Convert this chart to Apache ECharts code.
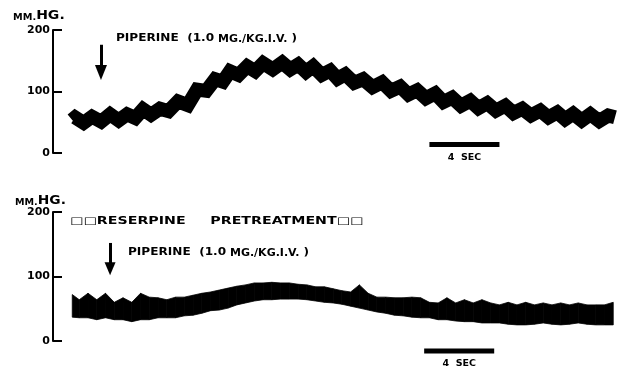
<!DOCTYPE html>
<html>
<head>
<meta charset="utf-8">
<script src="https://cdn.jsdelivr.net/npm/echarts@6/dist/echarts.min.js"></script>
<style>
  html, body { margin: 0; background: #fff; }
  #chart { width: 617px; height: 375px; }
</style>
</head>
<body>
<div id="chart"></div>
<script>
// top trace: time (s) and pressure (mm Hg), alternating pulse peaks / troughs
const topTime = [1.09, 1.26, 1.75, 2.23, 2.75, 3.26, 3.75, 4.23, 4.7, 5.14, 5.6, 6.11, 6.6, 7.14, 7.7, 8.23, 8.75, 9.26, 9.7, 10.11,
  10.6, 11.09, 11.55, 12.0, 12.55, 13.09, 13.55, 14.0, 14.45, 14.86, 15.35, 15.83, 16.25, 16.69, 17.2, 17.71, 18.25, 18.8, 19.3, 19.83,
  20.3, 20.8, 21.3, 21.83, 22.3, 22.8, 23.3, 23.83, 24.3, 24.8, 25.3, 25.83, 26.3, 26.8, 27.3, 27.83, 28.3, 28.8, 29.25, 29.71,
  30.2, 30.69, 31.2, 31.71, 32.1]
const topPressure = [54, 58, 49, 59, 51, 63, 53, 63, 57, 71, 62, 72, 68, 84, 78, 103, 101, 120, 116, 133,
  127, 141, 133, 146, 136, 147, 136, 144, 132, 141, 127, 134, 121, 128, 114, 120, 107, 115, 101, 108,
  95, 102, 89, 97, 83, 90, 77, 85, 73, 81, 69, 77, 65, 72, 61, 69, 58, 66, 55, 64,
  53, 63, 52, 61, 58]

// bottom trace (after reserpine): upper and lower edge of the pulse band
const bottomTime = [1.1, 1.5, 2, 2.5, 3, 3.5, 4, 4.5, 5, 5.5, 6, 6.5, 7, 7.5, 8, 8.5, 9, 9.5, 10, 10.5,
  11, 11.5, 12, 12.5, 13, 13.5, 14, 14.5, 15, 15.5, 16, 16.5, 17, 17.5, 18, 18.5, 19, 19.5, 20, 20.5,
  21, 21.5, 22, 22.5, 23, 23.5, 24, 24.5, 25, 25.5, 26, 26.5, 27, 27.5, 28, 28.5, 29, 29.5, 30, 30.5,
  31, 31.5, 32]
const bottomUpper = [72, 64, 74, 64, 74, 60, 67, 60, 74, 68, 67, 64, 68, 68, 71, 74, 76, 79, 82, 85,
  87, 90, 90, 91, 90, 90, 88, 87, 84, 84, 81, 78, 76, 87, 74, 68, 68, 67, 67, 68,
  67, 60, 59, 67, 59, 64, 59, 64, 59, 56, 60, 56, 60, 56, 59, 56, 59, 56, 59, 56,
  56, 56, 60]
const bottomLower = [37, 36, 36, 33, 36, 33, 33, 30, 33, 33, 36, 36, 36, 39, 40, 43, 47, 48, 51, 56,
  59, 62, 64, 64, 65, 65, 65, 64, 62, 60, 59, 57, 54, 51, 48, 45, 43, 40, 39, 37,
  36, 36, 33, 33, 31, 30, 30, 28, 28, 28, 26, 25, 25, 26, 28, 26, 25, 26, 28, 26,
  25, 25, 25]

// annotations: injection arrows [time, from, to] and 4 s scale bars [start, end, level]
const topArrow = [2.74, 176, 131]
const bottomArrow = [3.26, 152, 112]
const topScaleBar = [21.5, 25.5, 14]
const bottomScaleBar = [21.2, 25.2, -15.5]

const FONT = 'DejaVu Sans'
const chart = echarts.init(document.getElementById('chart'))

const pairs = (xs, ys) => xs.map((x, i) => [x, ys[i]])

const arrowMark = (a, size) => ({
  silent: true,
  animation: false,
  symbol: 'none',
  lineStyle: { color: '#000', width: 3, type: 'solid' },
  label: { show: false },
  data: [[
    { coord: [a[0], a[1]] },
    { coord: [a[0], a[2]], symbol: 'triangle', symbolSize: size },
  ]],
})

// 4 s time bar, label hung on its middle point
const scaleBar = (gridIndex, s) => ({
  type: 'line',
  xAxisIndex: gridIndex,
  yAxisIndex: gridIndex,
  clip: false,
  silent: true,
  symbol: 'circle',
  symbolSize: 0,
  showAllSymbol: true,
  lineStyle: { color: '#000', width: 5, cap: 'butt' },
  data: [
    [s[0], s[2]],
    {
      value: [(s[0] + s[1]) / 2, s[2]],
      label: {
        show: true,
        position: 'bottom',
        distance: 8,
        formatter: '4  SEC',
        color: '#000',
        fontFamily: FONT,
        fontWeight: 'bold',
        fontSize: 9.5,
      },
    },
    [s[1], s[2]],
  ],
})

// band between lower and upper edge, one quad per sample step
const renderBand = (params, api) => {
  const i = params.dataIndexInside
  if (i >= params.dataInsideLength - 1) return null
  const pt = (dim, j) => api.coord([api.value(0, j), api.value(dim, j)])
  return {
    type: 'polygon',
    shape: { points: [pt(2, i), pt(2, i + 1), pt(1, i + 1), pt(1, i)] },
    style: { fill: '#000', stroke: '#000', lineWidth: 0.8 },
  }
}

const yAxis = (gridIndex) => ({
  type: 'value',
  gridIndex,
  min: 0,
  max: 200,
  interval: 100,
  splitLine: { show: false },
  axisLine: { show: true, lineStyle: { color: '#000', width: 2 } },
  axisTick: { show: true, inside: true, length: 9, lineStyle: { color: '#000', width: 2 } },
  axisLabel: { margin: 3, color: '#000', fontFamily: FONT, fontWeight: 'bold', fontSize: 11 },
})
const xAxis = (gridIndex) => ({
  type: 'value',
  gridIndex,
  min: 0,
  max: 32.1,
  show: false,
})

const richUnits = {
  s: { fontFamily: FONT, fontWeight: 'bold', fontSize: 8, fill: '#000', verticalAlign: 'bottom', lineHeight: 13 },
  l: { fontFamily: FONT, fontWeight: 'bold', fontSize: 11.5, fill: '#000', verticalAlign: 'bottom', lineHeight: 13 },
}
const richDose = {
  a: { fontFamily: FONT, fontWeight: 'bold', fontSize: 11, fill: '#000', verticalAlign: 'bottom', lineHeight: 13 },
  b: { fontFamily: FONT, fontWeight: 'bold', fontSize: 10, fill: '#000', verticalAlign: 'bottom', lineHeight: 13 },
}
const doseText = '{a|PIPERINE  (1.0}{b| MG./KG.I.V.}{a| )}'

chart.setOption({
  animation: false,
  backgroundColor: '#fff',
  grid: [
    { left: 53, top: 30, width: 562, height: 123, outerBoundsMode: 'none' },
    { left: 53, top: 212, width: 562, height: 129, outerBoundsMode: 'none' },
  ],
  xAxis: [xAxis(0), xAxis(1)],
  yAxis: [yAxis(0), yAxis(1)],
  graphic: [
    { type: 'text', x: 13, y: 9, scaleX: 1.22, style: { text: '{s|MM.}{l|HG.}', rich: richUnits } },
    { type: 'text', x: 15, y: 194, scaleX: 1.2, style: { text: '{s|MM.}{l|HG.}', rich: richUnits } },
    { type: 'text', x: 116, y: 31, scaleX: 1.1, style: { text: doseText, rich: richDose } },
    { type: 'text', x: 128, y: 245, scaleX: 1.1, style: { text: doseText, rich: richDose } },
    {
      type: 'text', x: 70, y: 216, scaleX: 1.42,
      style: { text: '□□RESERPINE     PRETREATMENT□□', fill: '#000', font: 'bold 10px "DejaVu Sans"' },
    },
  ],
  series: [
    {
      type: 'line',
      xAxisIndex: 0,
      yAxisIndex: 0,
      data: pairs(topTime, topPressure),
      showSymbol: false,
      lineStyle: { color: '#000', width: 14, join: 'miter', cap: 'butt' },
      markLine: arrowMark(topArrow, [12, 15]),
    },
    {
      type: 'custom',
      xAxisIndex: 1,
      yAxisIndex: 1,
      silent: true,
      data: bottomTime.map((t, i) => [t, bottomLower[i], bottomUpper[i]]),
      encode: { x: 0, y: [1, 2] },
      renderItem: renderBand,
    },
    {
      // carries the injection arrow for the lower panel
      type: 'line',
      xAxisIndex: 1,
      yAxisIndex: 1,
      data: [],
      markLine: arrowMark(bottomArrow, [11, 13]),
    },
    scaleBar(0, topScaleBar),
    scaleBar(1, bottomScaleBar),
  ],
})
</script>
</body>
</html>
